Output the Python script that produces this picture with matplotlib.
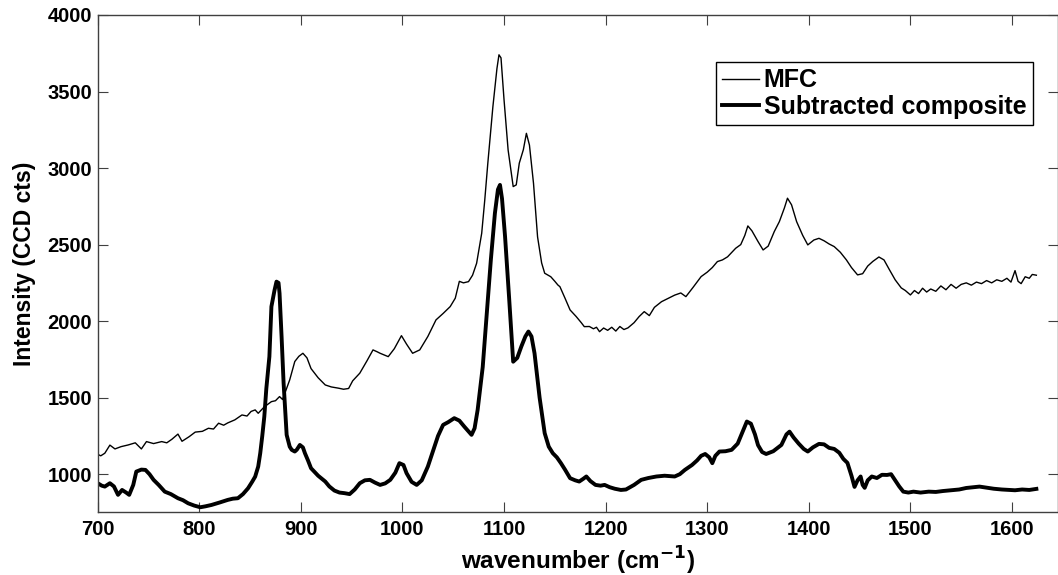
import numpy as np
import matplotlib
matplotlib.use("Agg")
import matplotlib.pyplot as plt

plt.rcParams['font.family'] = ['Liberation Sans', 'DejaVu Sans']
plt.rcParams['font.weight'] = 'bold'
plt.rcParams['mathtext.default'] = 'bf'

# MFC spectrum (thin line)
mfc_x = [700, 703, 707, 712, 717, 723, 730, 737, 743, 748, 755, 763, 768, 773, 779, 783,
         790, 796, 803, 809, 814, 819, 824, 828, 835, 842, 847, 851, 855, 858, 864, 871,
         875, 879, 882, 886, 889, 894, 898, 902, 906, 910, 917, 924, 930, 937, 942, 947,
         951, 958, 965, 971, 975, 978, 986, 992, 999, 1004, 1010, 1017, 1025, 1033, 1040,
         1047, 1052, 1056, 1060, 1065, 1069, 1073, 1078, 1081, 1084, 1089, 1093, 1095, 1097,
         1100, 1104, 1109, 1112, 1115, 1119, 1122, 1125, 1129, 1133, 1137, 1140, 1146, 1150,
         1153, 1155, 1160, 1165, 1171, 1176, 1179, 1184, 1188, 1191, 1194, 1198, 1202, 1206,
         1210, 1214, 1218, 1222, 1228, 1233, 1238, 1243, 1248, 1255, 1262, 1268, 1274, 1279,
         1286, 1294, 1300, 1305, 1310, 1315, 1320, 1328, 1333, 1337, 1340, 1344, 1350, 1355,
         1360, 1366, 1371, 1376, 1379, 1383, 1388, 1394, 1399, 1405, 1410, 1415, 1420, 1425,
         1431, 1437, 1442, 1448, 1453, 1458, 1463, 1469, 1474, 1479, 1485, 1491, 1495, 1500,
         1504, 1508, 1512, 1516, 1520, 1525, 1530, 1535, 1540, 1545, 1550, 1555, 1560, 1565,
         1570, 1575, 1580, 1585, 1590, 1595, 1599, 1603, 1606, 1609, 1613, 1617, 1620, 1624]
mfc_y = [1130, 1120, 1137, 1190, 1165, 1180, 1191, 1205, 1165, 1213, 1200, 1213, 1205, 1228, 1262, 1215,
         1245, 1275, 1280, 1300, 1295, 1333, 1320, 1335, 1355, 1387, 1380, 1410, 1420, 1398, 1440, 1474,
         1480, 1507, 1488, 1560, 1616, 1736, 1770, 1790, 1760, 1690, 1630, 1583, 1570, 1562, 1555, 1560,
         1610, 1660, 1740, 1812, 1800, 1790, 1768, 1820, 1905, 1850, 1790, 1812, 1900, 2008, 2050,
         2095, 2150, 2260, 2250, 2258, 2300, 2378, 2574, 2790, 3030, 3400, 3650, 3740, 3720,
         3445, 3118, 2879, 2890, 3032, 3120, 3227, 3150, 2900, 2550, 2380, 2313, 2290, 2260,
         2236, 2225, 2150, 2073, 2030, 1990, 1964, 1965, 1950, 1960, 1931, 1955, 1940, 1960,
         1935, 1965, 1945, 1956, 1990, 2030, 2062, 2036, 2090, 2127, 2150, 2170, 2184, 2160,
         2220, 2291, 2320, 2350, 2389, 2400, 2420, 2476, 2500, 2560, 2622, 2590, 2520, 2465,
         2490, 2585, 2650, 2740, 2803, 2760, 2650, 2560, 2498, 2530, 2541, 2525, 2504, 2487,
         2450, 2400, 2350, 2302, 2310, 2360, 2390, 2419, 2400, 2340, 2270, 2217, 2200, 2171,
         2200, 2180, 2215, 2190, 2210, 2195, 2230, 2205, 2240, 2215, 2240, 2250, 2235, 2255,
         2245, 2265, 2250, 2270, 2260, 2280, 2255, 2330, 2260, 2245, 2290, 2280, 2305, 2300]

# Subtracted composite spectrum (thick line)
sub_x = [700, 704, 707, 712, 716, 720, 724, 728, 731, 735, 738, 743, 747, 751, 755, 760,
         766, 772, 779, 784, 789, 795, 801, 806, 812, 820, 828, 833, 838, 843, 848, 852,
         855, 858, 860, 862, 864, 866, 869, 871, 874, 876, 878, 879, 881, 883, 886, 889,
         891, 894, 896, 899, 902, 904, 907, 910, 917, 924, 928, 933, 938, 943, 948, 953,
         958, 963, 968, 973, 978, 983, 988, 993, 997, 1001, 1004, 1009, 1014, 1019, 1025,
         1030, 1035, 1040, 1045, 1051, 1056, 1061, 1068, 1071, 1074, 1079, 1083, 1087, 1091,
         1094, 1096, 1098, 1101, 1105, 1109, 1113, 1117, 1121, 1124, 1127, 1130, 1135, 1140,
         1144, 1148, 1152, 1156, 1160, 1165, 1170, 1174, 1178, 1181, 1185, 1190, 1195, 1199,
         1204, 1209, 1215, 1220, 1228, 1235, 1242, 1250, 1258, 1268, 1273, 1278, 1285, 1290,
         1294, 1298, 1302, 1305, 1308, 1312, 1318, 1324, 1330, 1335, 1339, 1343, 1347, 1350,
         1354, 1358, 1365, 1373, 1378, 1381, 1385, 1390, 1395, 1399, 1404, 1410, 1415, 1420,
         1425, 1430, 1434, 1438, 1442, 1445, 1448, 1451, 1453, 1455, 1458, 1462, 1467, 1472,
         1477, 1481, 1485, 1489, 1493, 1498, 1503, 1510, 1518, 1525, 1532, 1540, 1548, 1555,
         1562, 1568, 1575, 1582, 1590, 1597, 1603, 1610, 1617, 1624]
sub_y = [941, 925, 919, 941, 920, 865, 897, 880, 865, 930, 1017, 1030, 1028, 1000, 963, 930,
         886, 870, 843, 830, 810, 795, 784, 790, 799, 815, 832, 840, 843, 870, 908, 950,
         984, 1050, 1137, 1250, 1376, 1560, 1768, 2095, 2200, 2258, 2250, 2182, 1900, 1594, 1257, 1180,
         1159, 1148, 1160, 1191, 1175, 1137, 1090, 1039, 990, 952, 920, 893, 880, 876, 870, 900,
         941, 960, 963, 945, 930, 940, 963, 1010, 1072, 1060, 1007, 950, 930, 960, 1050,
         1150, 1250, 1322, 1340, 1366, 1350, 1310, 1257, 1300, 1420, 1700, 2052, 2400, 2705,
         2860, 2890, 2800, 2552, 2150, 1735, 1760, 1834, 1900, 1932, 1900, 1790, 1500, 1268,
         1180, 1137, 1110, 1072, 1030, 974, 960, 952, 970, 985, 955, 930, 925, 930,
         915, 905, 897, 900, 930, 963, 975, 985, 990, 985, 1000, 1028, 1060, 1090,
         1120, 1132, 1110, 1072, 1120, 1148, 1150, 1159, 1200, 1280, 1344, 1330, 1260, 1190,
         1145, 1132, 1150, 1191, 1260, 1278, 1240, 1200, 1165, 1148, 1175, 1198, 1195, 1172,
         1165, 1140, 1100, 1074, 990, 917, 960, 985, 930, 911, 960, 985, 975, 996,
         995, 1000, 960, 920, 886, 880, 886, 880, 886, 884, 890, 895, 900, 910,
         915, 919, 912, 905, 900, 897, 895, 900, 897, 904]

fig = plt.figure(figsize=(10.58, 5.75), dpi=100)
ax = fig.add_axes([97.7 / 1058, 1 - 512 / 575, 960 / 1058, 497 / 575])

ax.plot(mfc_x, mfc_y, color='black', lw=1.0, label='MFC')
ax.plot(sub_x, sub_y, color='black', lw=2.8, label='Subtracted composite')

ax.set_xlim(700, 1645)
ax.set_ylim(753, 4000)
ax.set_xticks(np.arange(700, 1700, 100))
ax.set_yticks(np.arange(1000, 4500, 500))
ax.tick_params(direction='in', length=7, width=0.8, color='#404040',
               top=True, right=True, labelsize=14.5)
ax.tick_params(axis='y', pad=4)
ax.tick_params(axis='x', pad=6)
for lab in ax.get_xticklabels() + ax.get_yticklabels():
    lab.set_fontweight('bold')
for sp in ax.spines.values():
    sp.set_color('#404040')
    sp.set_linewidth(1.0)

ax.set_xlabel('wavenumber (cm$^{\\mathbf{-1}}$)', fontsize=17.5, fontweight='bold', labelpad=4)
ax.set_ylabel('Intensity (CCD cts)', fontsize=16.5, fontweight='bold', labelpad=8)

leg = ax.legend(loc='upper right', bbox_to_anchor=(0.974, 0.905), borderaxespad=0,
                fancybox=False, edgecolor='black', framealpha=1, fontsize=18,
                handlelength=1.5, handletextpad=0.18, borderpad=0.25, labelspacing=0.1)
leg.get_frame().set_linewidth(1.0)
for t in leg.get_texts():
    t.set_fontweight('bold')

fig.savefig('out.png', dpi=100)
